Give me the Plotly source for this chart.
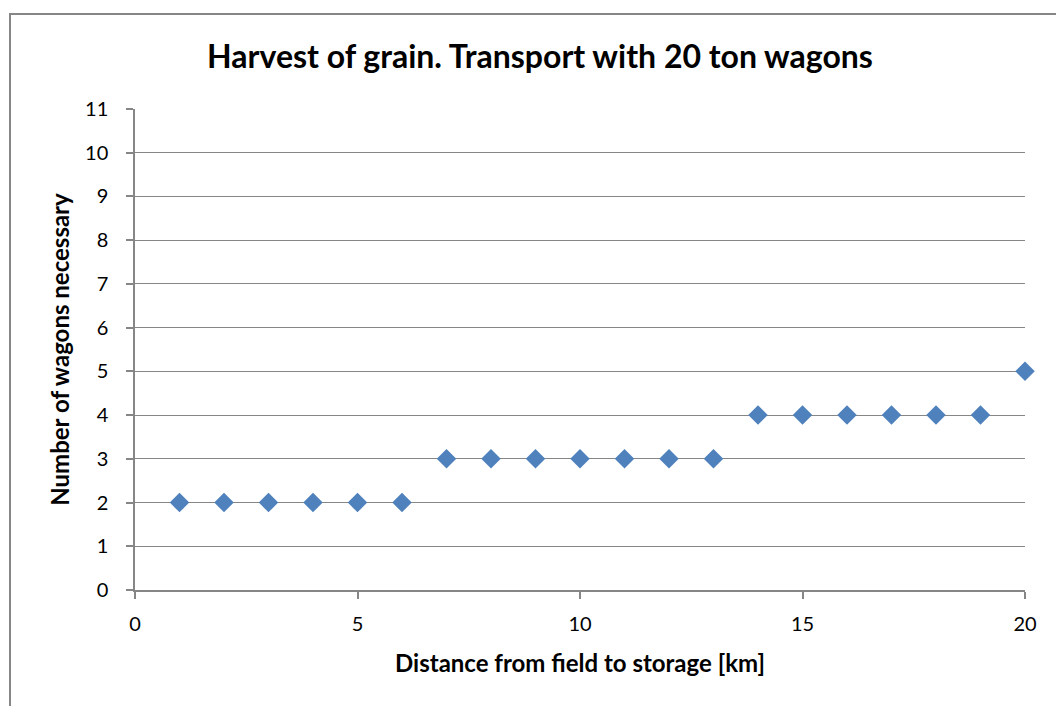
import plotly.graph_objects as go

distance_km = list(range(1, 21))
wagons = [2, 2, 2, 2, 2, 2, 3, 3, 3, 3, 3, 3, 3, 4, 4, 4, 4, 4, 4, 5]
x_ticks = [0, 5, 10, 15, 20]

W, H = 1056, 706
L, R, T, B = 135, 31, 109, 116
pw, ph = W - L - R, H - T - B

fig = go.Figure(go.Scatter(
    x=distance_km, y=wagons, mode="markers",
    marker=dict(symbol="diamond", size=15, color="#4F81BD", line=dict(width=0)),
    showlegend=False, cliponaxis=False,
))

font = "Lato, Calibri, sans-serif"
grey = "#868686"
axis_common = dict(
    showline=True, linecolor=grey, linewidth=1.5,
    ticks="outside", ticklen=7, tickcolor=grey, tickwidth=1.5,
    tickfont=dict(family=font, size=20, color="black"),
    zeroline=False,
)

fig.update_layout(
    width=W, height=H,
    margin=dict(l=L, r=R, t=T, b=B),
    paper_bgcolor="white", plot_bgcolor="white",
    title=dict(text="<b>Harvest of grain. Transport with 20 ton wagons</b>",
               font=dict(family=font, size=32, color="black"),
               x=540 / W, xanchor="center", xref="container",
               y=(H - 57) / H, yanchor="middle", yref="container"),
    xaxis=dict(range=[0, 20], tickvals=x_ticks, showgrid=False,
               ticklabelstandoff=8,
               title=dict(text="<b>Distance from field to storage [km]</b>",
                          font=dict(family=font, size=24, color="black"), standoff=21),
               **axis_common),
    yaxis=dict(range=[0, 11], dtick=1, showgrid=True, gridcolor=grey, gridwidth=1.2,
               ticklabelstandoff=14,
               title=dict(text="<b>Number of wagons necessary</b>",
                          font=dict(family=font, size=24, color="black"), standoff=9),
               **axis_common),
    shapes=[dict(type="rect", xref="paper", yref="paper",
                 x0=(10 - L) / pw, x1=(W + 20 - L) / pw,
                 y0=(H - B - (H + 20)) / ph, y1=(H - B - 14) / ph,
                 line=dict(color=grey, width=2), fillcolor="rgba(0,0,0,0)",
                 layer="below")],
)

fig.write_html("out.html", config={"displayModeBar": False},
               post_script="document.body.style.margin='0px';")
